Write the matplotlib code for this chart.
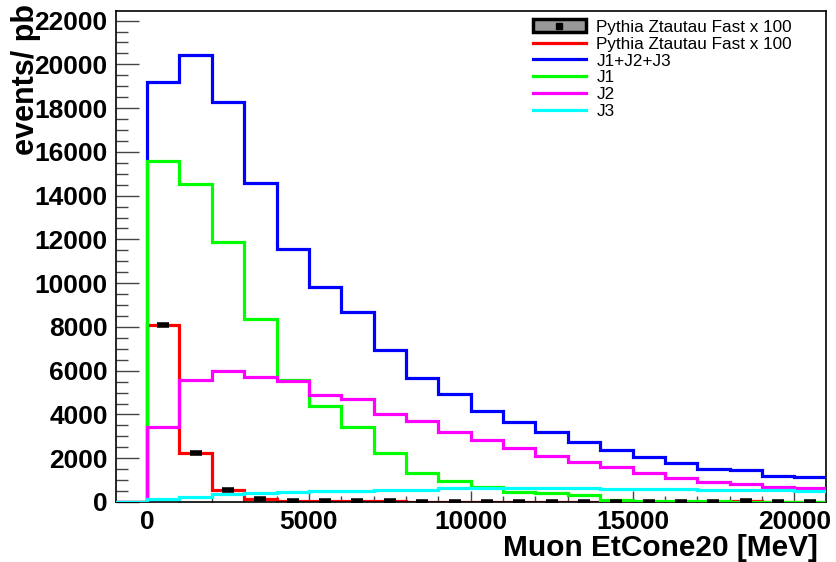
import matplotlib
matplotlib.use("Agg")
import matplotlib.pyplot as plt
import numpy as np
from matplotlib.patches import Rectangle
from matplotlib.lines import Line2D
from matplotlib.ticker import MultipleLocator

plt.rcParams["font.family"] = ["Liberation Sans", "DejaVu Sans"]

# bin edges in MeV: one empty bin from -1000 to 0, then 1 GeV bins
edges = np.arange(-1000, 21001, 1000)

# Pythia Ztautau Fast x 100 (events/pb per bin)
ztautau = [0, 8090, 2230, 550, 125, 50, 40, 30, 25, 20, 20, 15, 15, 15, 12,
           12, 10, 10, 8, 25, 8, 6]
ztautau_err = [0, 90, 45, 22, 10, 6, 5, 5, 4, 4, 4, 4, 4, 4, 3,
               3, 3, 3, 3, 4, 3, 3]

# QCD dijet slices
j1 = [0, 15590, 14540, 11870, 8365, 5577, 4402, 3442, 2254, 1345, 975, 700,
      443, 397, 320, 91, 46, 30, 25, 20, 20, 15]
j2 = [0, 3442, 5563, 6002, 5700, 5531, 4891, 4722, 4036, 3716, 3213, 2834,
      2455, 2103, 1842, 1586, 1344, 1083, 928, 809, 672, 626]
j3 = [0, 137, 242, 352, 398, 443, 489, 489, 535, 560, 630, 640,
      640, 630, 620, 610, 600, 585, 570, 555, 530, 517]
jsum = [0, 19212, 20419, 18270, 14559, 11565, 9828, 8685, 6948, 5668, 4923,
        4160, 3643, 3200, 2729, 2377, 2071, 1769, 1522, 1463, 1202, 1129]

fig = plt.figure(figsize=(8.37, 5.62), dpi=100)
ax = fig.add_axes([0.1386, 0.1068, 0.8479, 0.8737])

lw = 2.3
ax.stairs(ztautau, edges, color="#ff0000", linewidth=lw, zorder=2)
ax.stairs(jsum, edges, color="#0000ff", linewidth=lw, zorder=3)
ax.stairs(j1, edges, color="#00ff00", linewidth=lw, zorder=4)
ax.stairs(j2, edges, color="#ff00ff", linewidth=lw, zorder=5)
ax.stairs(j3, edges, color="#00ffff", linewidth=lw, zorder=6)

centers = 0.5 * (edges[:-1] + edges[1:])
ax.errorbar(centers[1:], ztautau[1:], yerr=ztautau_err[1:], fmt="none",
            ecolor="black", elinewidth=1.2, zorder=7)
ax.plot(centers[1:], ztautau[1:], linestyle="none", marker="_",
        markersize=8, markeredgewidth=4, color="black", zorder=8)

ax.set_xlim(-960, 20970)
ax.set_ylim(0, 22440)

ax.xaxis.set_major_locator(MultipleLocator(5000))
ax.xaxis.set_minor_locator(MultipleLocator(1000))
ax.yaxis.set_major_locator(MultipleLocator(2000))
ax.yaxis.set_minor_locator(MultipleLocator(500))

ax.tick_params(axis="y", which="major", direction="in", length=16.5,
               width=1.0, color="#444444", pad=6, labelsize=19)
ax.tick_params(axis="y", which="minor", direction="in", length=8.5,
               width=1.0, color="#444444")
ax.tick_params(axis="x", which="major", direction="in", length=8,
               width=1.0, color="#444444", pad=6, labelsize=19)
ax.tick_params(axis="x", which="minor", direction="in", length=4,
               width=1.0, color="#444444")
for lab in ax.get_xticklabels() + ax.get_yticklabels():
    lab.set_fontweight("bold")
for sp in ax.spines.values():
    sp.set_linewidth(1.2)

ax.set_xlabel("Muon EtCone20 [MeV]", fontsize=21.5, fontweight="bold",
              ha="right", va="center")
ax.xaxis.set_label_coords((818 - 116) / 709.7, -(548 - 502) / 491)
fig.text(0.031, 0.993, "events/ pb", rotation=90, ha="center", va="top",
         fontsize=22, fontweight="bold")

# legend
box = Rectangle((0, 0), 1, 1, facecolor="#999999", edgecolor="black",
                linewidth=2.5)
mark = Line2D([], [], linestyle="none", marker="s", markersize=5,
              color="black")
handles = [(box, mark),
           Line2D([], [], color="#ff0000", linewidth=lw),
           Line2D([], [], color="#0000ff", linewidth=lw),
           Line2D([], [], color="#00ff00", linewidth=lw),
           Line2D([], [], color="#ff00ff", linewidth=lw),
           Line2D([], [], color="#00ffff", linewidth=lw)]
labels = ["Pythia Ztautau Fast x 100", "Pythia Ztautau Fast x 100",
          "J1+J2+J3", "J1", "J2", "J3"]
fig.legend(handles, labels, loc="upper left",
           bbox_to_anchor=(533 / 837, 1 - 19.5 / 562), frameon=False,
           fontsize=12.3, borderpad=0, borderaxespad=0, handlelength=3.1,
           handletextpad=0.6, labelspacing=0.1, handleheight=0.75)

fig.savefig("out.png", dpi=100)
